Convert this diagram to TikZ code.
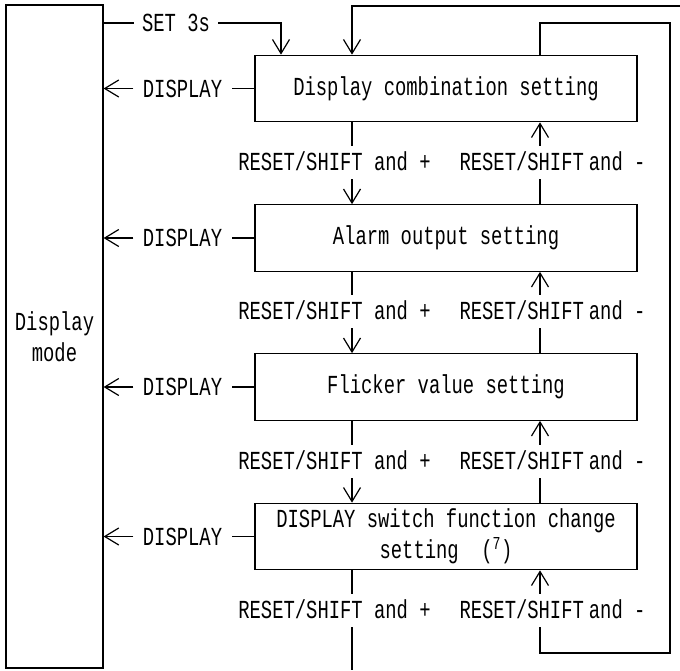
\documentclass[tikz,border=0pt]{standalone}
\usepackage{fontspec}
\setmainfont[FakeStretch=0.725]{Liberation Mono}
\usetikzlibrary{arrows.meta}
\begin{document}
\begin{tikzpicture}[x=1pt,y=-1pt,
  line width=1.2pt,
  >={Straight Barb[length=14pt,width=17pt]},
  every node/.style={font=\fontsize{26}{31}\selectfont},
  stage/.style={draw, minimum width=382pt, minimum height=66.5pt, align=center, inner sep=0pt},
  keylabel/.style={fill=white, inner xsep=1pt, inner ysep=8pt, text height=17pt, text depth=0pt},
  sidelabel/.style={inner xsep=8pt, inner ysep=0pt}]
\useasboundingbox (0,0) rectangle (680,670);

% mode block on the left
\node[draw, minimum width=97pt, minimum height=663pt, align=center, inner sep=0pt] (mode) at (54.5,336.5) {Display\\mode};

% setting stages
\node[stage] (b1) at (446,88.5) {Display combination setting};
\node[stage] (b2) at (446,238) {Alarm output setting};
\node[stage] (b3) at (446,387) {Flicker value setting};
\node[stage] (b4) at (446,536.5) {DISPLAY switch function change\\setting\ \ (\textsuperscript{7})};

% column guides
\coordinate (cl) at (352,0);
\coordinate (cr) at (540,0);
\coordinate (cs) at (281,0);
\coordinate (cd) at (182.5,0);
\coordinate (bend) at (352,670);
\coordinate (otr) at (680,6);
\coordinate (rt) at (670,23);
\coordinate (rb) at (670,653);

% entry with SET 3s
\node[sidelabel, inner xsep=7.5pt] (set) at (176,23) {SET 3s};
\draw (set.west -| mode.east) -- (set.west);
\draw[->] (set.east) -- (set.east -| cs) -- (b1.north -| cs);

% DISPLAY returns to the mode block
\foreach \i in {1,...,4} {
  \node[sidelabel, inner xsep=9pt] (d\i) at (cd |- b\i.west) {DISPLAY};
  \draw (b\i.west) -- (d\i.east);
  \draw[->] (d\i.west) -- (d\i.west -| mode.east);
}

% forward (+) steps
\draw[->] (b1.south -| cl) -- (b2.north -| cl);
\draw[->] (b2.south -| cl) -- (b3.north -| cl);
\draw[->] (b3.south -| cl) -- (b4.north -| cl);
\draw (b4.south -| cl) -- (bend);
\draw[->] (otr) -- (otr -| cl) -- (b1.north -| cl);

% backward (-) steps
\draw[->] (b2.north -| cr) -- (b1.south -| cr);
\draw[->] (b3.north -| cr) -- (b2.south -| cr);
\draw[->] (b4.north -| cr) -- (b3.south -| cr);
\draw[->] (b1.north -| cr) -- (rt -| cr) -- (rt) -- (rb) -- (rb -| cr) -- (b4.south -| cr);

% key labels
\foreach \i/\y in {1/162,2/311,3/461,4/610} {
  \node[keylabel] (p\i) at (334.5,\y) {RESET/SHIFT and +};
  \node[keylabel] (m\i) at (552.5,\y) {RESET/SHIFT\hspace{5pt}and -};
}
\end{tikzpicture}
\end{document}
